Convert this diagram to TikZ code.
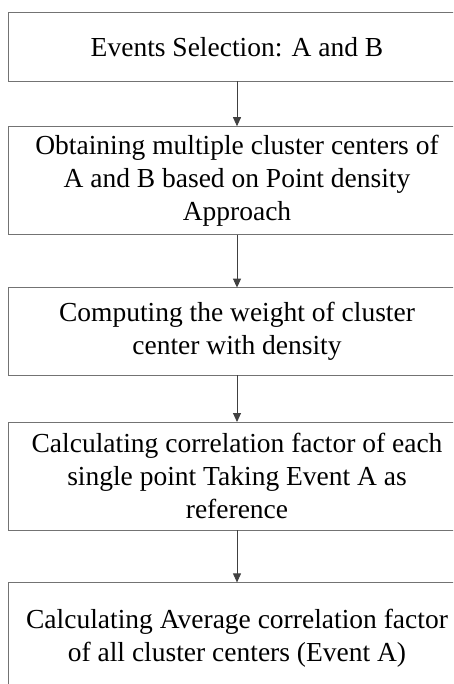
\documentclass[tikz,border=0pt]{standalone}
\usepackage{fontspec}
\setmainfont{Liberation Serif}
\usetikzlibrary{positioning,arrows.meta}

\tikzset{
    stepbox/.style={minimum width=456pt, align=center, inner sep=0pt,
        font=\fontsize{27.5}{33}\selectfont},
    frame/.style={draw=black!55, line width=1pt},
    flow/.style={-{Triangle[length=9pt,width=8pt]}, draw=black!75, line width=0.9pt}
}

\begin{document}
\begin{tikzpicture}[x=1pt,y=1pt]
    \useasboundingbox (0,0) rectangle (453,-684);
    \clip (0,0) rectangle (453,-684);

    \node[stepbox, minimum height=68pt] (sel) at (237,-47) {Events Selection: A and B};
    \node[stepbox, minimum height=108pt, below=45pt of sel] (cent)
        {Obtaining multiple cluster centers of\\ A and B based on Point density\\ Approach};
    \node[stepbox, minimum height=87pt, below=53pt of cent] (wgt)
        {Computing the weight of cluster\\ center with density};
    \node[stepbox, minimum height=108pt, below=47pt of wgt] (corr)
        {Calculating correlation factor of each\\ single point Taking Event A as\\ reference};
    \node[stepbox, minimum height=112pt, below=52pt of corr] (avg)
        {Calculating Average correlation factor\\ of all cluster centers (Event A)};

    % boxes run past the right edge of the page
    \foreach \n in {sel,cent,wgt,corr,avg}
        \draw[frame] (\n.north east) -- (\n.north west) -- (\n.south west) -- (\n.south east);

    \draw[flow] (sel) -- (cent);
    \draw[flow] (cent) -- (wgt);
    \draw[flow] (wgt) -- (corr);
    \draw[flow] (corr) -- (avg);

\end{tikzpicture}
\end{document}
